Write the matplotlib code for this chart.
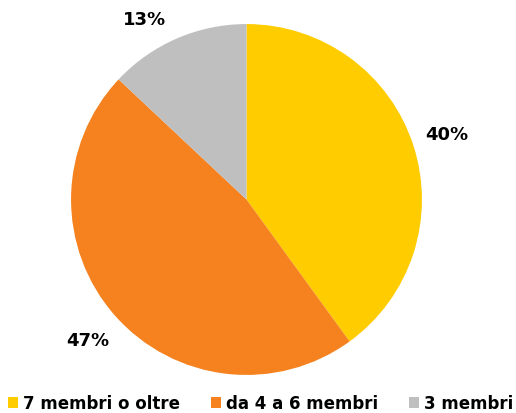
import numpy as np
import matplotlib
matplotlib.use("Agg")
import matplotlib.pyplot as plt

# household size shares
labels = ["7 membri o oltre", "da 4 a 6 membri", "3 membri"]
shares = [40, 47, 13]
colors = ["#FFCC00", "#F5821F", "#BFBFBF"]

# label radius (in pie radii) and extra angle nudge per slice
label_r = [1.20, 1.21, 1.18]
label_nudge = [0, 0, 6]

plt.rcParams['font.family'] = ['DejaVu Sans']

fig = plt.figure(figsize=(5.16, 4.14), dpi=100)
ax = fig.add_axes([0.4777 - 0.340, 0.5157 - 0.424, 0.680, 0.848])

wedges, _ = ax.pie(shares, colors=colors, startangle=90, counterclock=False,
                   wedgeprops=dict(linewidth=0))
ax.set_aspect('equal')
ax.set_xlim(-1, 1)
ax.set_ylim(-1, 1)

# percentage labels outside the slices
total = sum(shares)
start = 90.0
for i, v in enumerate(shares):
    mid = start - 360.0 * v / total / 2 + label_nudge[i]
    start -= 360.0 * v / total
    a = np.deg2rad(mid)
    ax.text(label_r[i] * np.cos(a), label_r[i] * np.sin(a), "%d%%" % round(100.0 * v / total),
            ha='center', va='center', fontsize=13, fontweight='bold', clip_on=False)

fig.legend(wedges, labels, loc='lower center', bbox_to_anchor=(0.505, -0.035),
           ncol=3, frameon=False, handlelength=0.6, handleheight=0.6,
           handletextpad=0.3, columnspacing=1.85,
           prop=dict(size=12, weight='bold'))

fig.savefig("out.png", dpi=100)
